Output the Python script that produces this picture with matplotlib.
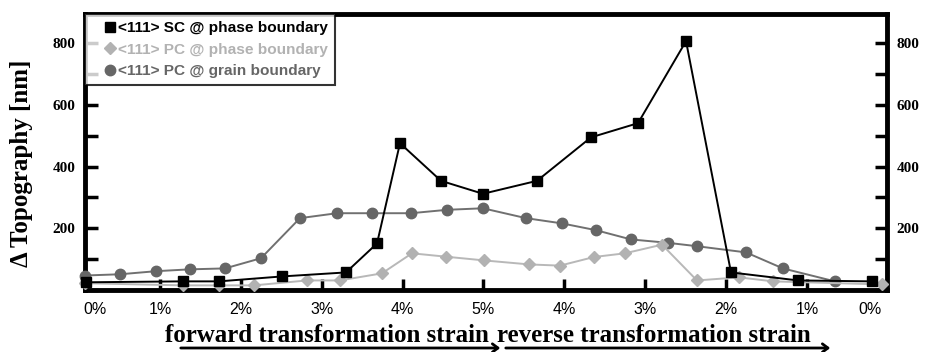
import numpy as np
import matplotlib
matplotlib.use('Agg')
import matplotlib.pyplot as plt
from matplotlib.lines import Line2D
from matplotlib.ticker import MultipleLocator

# strain path position (1 unit = 1 % strain step along the path)
sc_x = [0.08, 1.285, 1.730, 2.509, 3.300, 3.684, 3.968, 4.475, 4.994, 5.662,
        6.330, 6.911, 7.505, 8.061, 8.890, 9.805]
sc_y = [25, 28, 28, 44, 57, 151, 476, 354, 312, 354, 495, 541, 807, 57, 31, 28]

pcp_x = [0.073, 1.285, 1.730, 2.163, 2.818, 3.226, 3.745, 4.116, 4.537, 5.006,
         5.563, 5.946, 6.367, 6.750, 7.208, 7.640, 8.160, 8.581, 9.927]
pcp_y = [22, 15, 15, 15, 31, 31, 54, 119, 108, 96, 83, 79, 107, 119, 147, 31,
         41, 28, 18]

pcg_x = [0.073, 0.506, 0.951, 1.371, 1.804, 2.249, 2.731, 3.189, 3.622, 4.104,
         4.549, 4.994, 5.526, 5.971, 6.391, 6.824, 7.282, 7.640, 8.246, 8.703,
         9.346]
pcg_y = [47, 51, 61, 67, 70, 103, 233, 249, 249, 249, 260, 265, 233, 216, 194,
         164, 153, 142, 122, 70, 28]

tick_pos = [0.2, 1, 2, 3, 4, 5, 6, 7, 8, 9, 9.78]
tick_lab = ['0%', '1%', '2%', '3%', '4%', '5%', '4%', '3%', '2%', '1%', '0%']

labels = ['<111> SC @ phase boundary', '<111> PC @ phase boundary',
          '<111> PC @ grain boundary']
colors = ['#000000', '#b2b2b2', '#666666']

serif = 'Liberation Serif'
sans = 'Liberation Sans'

fig = plt.figure(figsize=(9.33, 3.52), dpi=100)
ax = fig.add_axes([85/933, 1-290/352, 802/933, 276/352])

ax.plot(pcg_x, pcg_y, color='#707070', lw=1.4, marker='o', ms=7.5,
        mfc=colors[2], mec=colors[2], clip_on=False, zorder=3)
ax.plot(pcp_x, pcp_y, color='#b8b8b8', lw=1.4, marker='D', ms=6,
        mfc=colors[1], mec=colors[1], clip_on=False, zorder=4)
ax.plot(sc_x, sc_y, color='black', lw=1.4, marker='s', ms=6.5,
        mfc='black', mec='black', clip_on=False, zorder=5)

ax.set_xlim(0.073, 9.99)
ax.set_ylim(0, 895)

for s in ax.spines.values():
    s.set_linewidth(3.5)

ax.set_xticks(tick_pos)
ax.set_xticklabels(tick_lab, fontfamily=sans, fontsize=11.5)
ax.tick_params(axis='x', direction='in', length=8, width=2.5, pad=9, top=False)
xt = ax.xaxis.get_major_ticks()
for t in (xt[0], xt[-1]):
    t.tick1line.set_visible(False)

ax.yaxis.set_minor_locator(MultipleLocator(100))
ax.set_yticks([200, 400, 600, 800])
ax.tick_params(axis='y', which='both', direction='in', length=9, width=2.5,
               left=True, right=True, labelleft=True, labelright=True, pad=7)
for t in ax.yaxis.get_major_ticks():
    for lab in (t.label1, t.label2):
        lab.set_fontfamily(serif)
        lab.set_fontweight('bold')
        lab.set_fontsize(11)

ax.set_ylabel('\u0394 Topography [nm]', fontfamily=serif, fontweight='bold',
              fontsize=18)
ax.yaxis.set_label_coords(-0.065, 0.46)

handles = [Line2D([], [], ls='none', marker='s', ms=6.5, color=colors[0]),
           Line2D([], [], ls='none', marker='D', ms=6, color=colors[1]),
           Line2D([], [], ls='none', marker='o', ms=7.5, color=colors[2])]
leg = ax.legend(handles, labels, loc='upper left', bbox_to_anchor=(0, 1),
                borderaxespad=0, fancybox=False, handlelength=2.3,
                handletextpad=-0.62, labelspacing=0.5, borderpad=0.45,
                prop={'family': sans, 'weight': 'bold', 'size': 11.1})
leg.get_frame().set_edgecolor('black')
leg.get_frame().set_linewidth(1.5)
for txt, c in zip(leg.get_texts(), colors):
    txt.set_color(c)

fig.text(165/933, 1-342/352, 'forward transformation strain', ha='left',
         va='baseline', fontfamily=serif, fontweight='bold', fontsize=18)
fig.text(497/933, 1-342/352, 'reverse transformation strain', ha='left',
         va='baseline', fontfamily=serif, fontweight='bold', fontsize=18)
for x0, x1 in [(178, 503), (503, 833)]:
    fig.add_artist(matplotlib.patches.FancyArrowPatch(
        (x0/933, 1-348/352), (x1/933, 1-348/352), transform=fig.transFigure,
        arrowstyle='->,head_length=4,head_width=3', lw=2, color='black'))

fig.savefig('out.png', dpi=100)
